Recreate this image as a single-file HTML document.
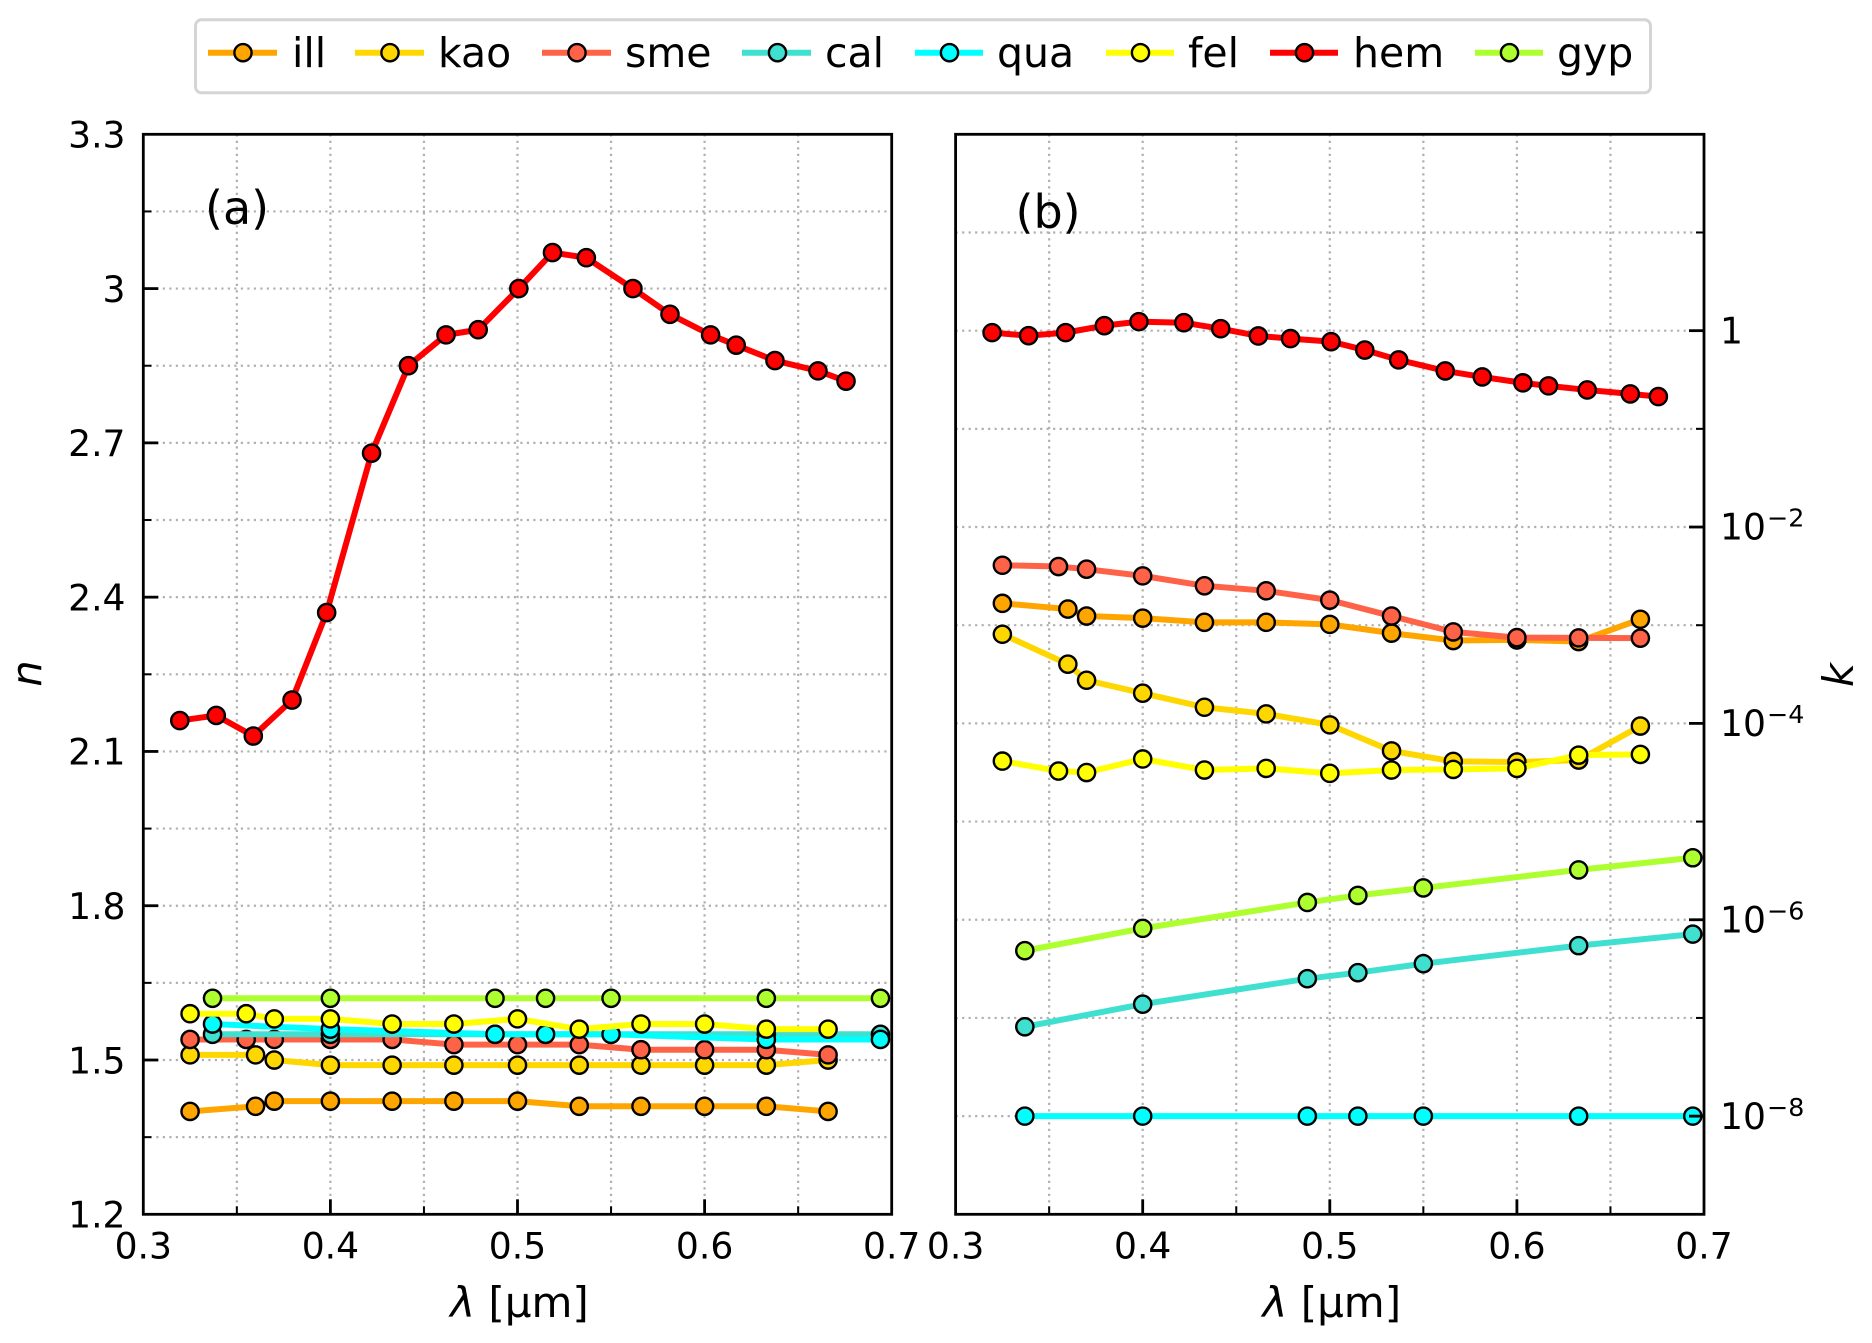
<!DOCTYPE html>
<html>
<head>
<meta charset="utf-8">
<title>Refractive index n and extinction k versus wavelength</title>
<style>
html,body{margin:0;padding:0;background:#fff;}
svg{display:block;}
text{font-family:"DejaVu Sans","Liberation Sans",sans-serif;fill:#000;}
</style>
</head>
<body>
<svg id="chart" xmlns="http://www.w3.org/2000/svg" width="1872" height="1343" viewBox="0 0 1872 1343">
  <rect x="0" y="0" width="1872" height="1343" fill="#fff"/>
  <g id="panelA"></g>
  <g id="panelB"></g>
  <g>
    <rect x="195.5" y="19.8" width="1455" height="73" rx="6" ry="6" fill="#fff" stroke="#d5d5d5" stroke-width="3"/>
    <g>
      <line x1="208" x2="277" y1="52.7" y2="52.7" stroke="#ffa500" stroke-width="6"/>
      <circle cx="243" cy="52.7" r="8.6" fill="#ffa500" stroke="#000" stroke-width="2.4"/>
      <text x="292" y="67" font-size="41">ill</text>
    </g>
    <g>
      <line x1="355" x2="424" y1="52.7" y2="52.7" stroke="#ffd700" stroke-width="6"/>
      <circle cx="390" cy="52.7" r="8.6" fill="#ffd700" stroke="#000" stroke-width="2.4"/>
      <text x="438" y="67" font-size="41">kao</text>
    </g>
    <g>
      <line x1="542" x2="611" y1="52.7" y2="52.7" stroke="#ff6347" stroke-width="6"/>
      <circle cx="577" cy="52.7" r="8.6" fill="#ff6347" stroke="#000" stroke-width="2.4"/>
      <text x="625" y="67" font-size="41">sme</text>
    </g>
    <g>
      <line x1="742" x2="811" y1="52.7" y2="52.7" stroke="#40e0d0" stroke-width="6"/>
      <circle cx="777.5" cy="52.7" r="8.6" fill="#40e0d0" stroke="#000" stroke-width="2.4"/>
      <text x="825" y="67" font-size="41">cal</text>
    </g>
    <g>
      <line x1="915" x2="983" y1="52.7" y2="52.7" stroke="#00ffff" stroke-width="6"/>
      <circle cx="949.5" cy="52.7" r="8.6" fill="#00ffff" stroke="#000" stroke-width="2.4"/>
      <text x="997" y="67" font-size="41">qua</text>
    </g>
    <g>
      <line x1="1106" x2="1174" y1="52.7" y2="52.7" stroke="#ffff00" stroke-width="6"/>
      <circle cx="1140.5" cy="52.7" r="8.6" fill="#ffff00" stroke="#000" stroke-width="2.4"/>
      <text x="1188" y="67" font-size="41">fel</text>
    </g>
    <g>
      <line x1="1270" x2="1338" y1="52.7" y2="52.7" stroke="#ff0000" stroke-width="6"/>
      <circle cx="1304.5" cy="52.7" r="8.6" fill="#ff0000" stroke="#000" stroke-width="2.4"/>
      <text x="1353" y="67" font-size="41">hem</text>
    </g>
    <g>
      <line x1="1475" x2="1543" y1="52.7" y2="52.7" stroke="#adff2f" stroke-width="6"/>
      <circle cx="1509.5" cy="52.7" r="8.6" fill="#adff2f" stroke="#000" stroke-width="2.4"/>
      <text x="1557" y="67" font-size="41">gyp</text>
    </g>
  </g>
  <text x="205" y="224" font-size="46">(a)</text>
  <text x="1015.5" y="228" font-size="46">(b)</text>
  <text x="519.5" y="1317" font-size="42" text-anchor="middle"><tspan font-style="italic">λ</tspan> [μm]</text>
  <text x="1331.8" y="1317" font-size="42" text-anchor="middle"><tspan font-style="italic">λ</tspan> [μm]</text>
  <text transform="translate(41,673.5) rotate(-90)" font-size="41.7" font-style="italic" text-anchor="middle">n</text>
  <text transform="translate(1853,675) rotate(-90)" font-size="41.7" font-style="italic" text-anchor="middle">k</text>
</svg>
<script>
// Wavelength samples (micrometres)
const lamIll = [0.325,0.36,0.37,0.4,0.433,0.466,0.5,0.533,0.566,0.6,0.633,0.666];
const lamSme = [0.325,0.355,0.37,0.4,0.433,0.466,0.5,0.533,0.566,0.6,0.633,0.666];
const lamCal = [0.337,0.4,0.488,0.515,0.55,0.633,0.694];
const lamHem = [0.3195,0.339,0.3588,0.3795,0.398,0.422,0.4417,0.4618,0.479,0.5007,0.5187,0.5368,0.5617,0.5815,0.6032,0.6169,0.6376,0.6606,0.6756];

// Panel (a): refractive index n
const nIll = [1.40,1.41,1.42,1.42,1.42,1.42,1.42,1.41,1.41,1.41,1.41,1.40];
const nKao = [1.51,1.51,1.50,1.49,1.49,1.49,1.49,1.49,1.49,1.49,1.49,1.50];
const nSme = [1.54,1.54,1.54,1.54,1.54,1.53,1.53,1.53,1.52,1.52,1.52,1.51];
const nCal = [1.55,1.55,1.55,1.55,1.55,1.55,1.55];
const nQua = [1.57,1.56,1.55,1.55,1.55,1.54,1.54];
const nFel = [1.59,1.59,1.58,1.58,1.57,1.57,1.58,1.56,1.57,1.57,1.56,1.56];
const nHem = [2.16,2.17,2.13,2.20,2.37,2.68,2.85,2.91,2.92,3.00,3.07,3.06,3.00,2.95,2.91,2.89,2.86,2.84,2.82];
const nGyp = [1.62,1.62,1.62,1.62,1.62,1.62,1.62];

// Panel (b): extinction coefficient k
const kIll = [1.67e-3,1.46e-3,1.24e-3,1.18e-3,1.07e-3,1.07e-3,1.02e-3,8.3e-4,6.98e-4,7.08e-4,6.82e-4,1.15e-3];
const kKao = [8.09e-4,4.01e-4,2.75e-4,2.03e-4,1.46e-4,1.25e-4,9.66e-5,5.25e-5,4.10e-5,4.04e-5,4.23e-5,9.4e-5];
const kSme = [4.08e-3,3.96e-3,3.72e-3,3.18e-3,2.52e-3,2.24e-3,1.80e-3,1.24e-3,8.55e-4,7.48e-4,7.43e-4,7.38e-4];
const kCal = [8.13e-8,1.38e-7,2.51e-7,2.89e-7,3.57e-7,5.45e-7,7.14e-7];
const kQua = [1e-8,1e-8,1e-8,1e-8,1e-8,1e-8,1e-8];
const kFel = [4.13e-5,3.27e-5,3.16e-5,4.34e-5,3.35e-5,3.48e-5,3.10e-5,3.35e-5,3.40e-5,3.48e-5,4.75e-5,4.83e-5];
const kHem = [0.955,0.889,0.955,1.125,1.236,1.205,1.047,0.883,0.830,0.773,0.635,0.504,0.389,0.338,0.294,0.274,0.249,0.227,0.213];
const kGyp = [4.84e-7,8.17e-7,1.5e-6,1.77e-6,2.11e-6,3.22e-6,4.28e-6];

// Axis tick values and labels
const xMajorTicks = [0.3,0.4,0.5,0.6,0.7];
const xMajorLabels = ['0.3','0.4','0.5','0.6','0.7'];
const xMinorTicks = [0.35,0.45,0.55,0.65];
const nMajorTicks = [1.2,1.5,1.8,2.1,2.4,2.7,3,3.3];
const nMajorLabels = ['1.2','1.5','1.8','2.1','2.4','2.7','3','3.3'];
const nMinorTicks = [1.35,1.65,1.95,2.25,2.55,2.85,3.15];
const kMajorExponents = [0,-2,-4,-6,-8];
const kMajorLabels = ['1','10','10','10','10'];
const kMajorSuperscripts = ['','−2','−4','−6','−8'];
const kMinorExponents = [1,-1,-3,-5,-7];

const colIll = '#ffa500', colKao = '#ffd700', colSme = '#ff6347', colCal = '#40e0d0';
const colQua = '#00ffff', colFel = '#ffff00', colHem = '#ff0000', colGyp = '#adff2f';

const NS = 'http://www.w3.org/2000/svg';
const TOP = 134.3, BOTTOM = 1214.3, WIDTH = 748.4;
const LEFT_A = 143.3, LEFT_B = 955.6;

function xA(l){ return LEFT_A + (l - 0.3) / 0.4 * WIDTH; }
function xB(l){ return LEFT_B + (l - 0.3) / 0.4 * WIDTH; }
function yN(n){ return TOP + (3.3 - n) / 2.1 * (BOTTOM - TOP); }
function yK(k){ return TOP + (2 - Math.log10(k)) / 11 * (BOTTOM - TOP); }

function make(tag, attrs, parent){
  const el = document.createElementNS(NS, tag);
  for (const key in attrs) el.setAttribute(key, attrs[key]);
  parent.appendChild(el);
  return el;
}

function gridLine(parent, x1, y1, x2, y2, name){
  const el = make('line', {x1:x1, y1:y1, x2:x2, y2:y2, stroke:'#b0b0b0', 'stroke-width':2.2, 'stroke-dasharray':'2.2 4.3'}, parent);
  
  
}

function tickLine(parent, x1, y1, x2, y2, width, name){
  const el = make('line', {x1:x1, y1:y1, x2:x2, y2:y2, stroke:'#000', 'stroke-width':width}, parent);
  
  
}

function tickText(parent, x, y, anchor, size, str, name){
  const el = make('text', {x:x, y:y, 'text-anchor':anchor, 'font-size':size}, parent);
  el.textContent = str;
  
  
}

function drawSeries(parent, sx, sy, xs, ys, color, name){
  const g = make('g', {}, parent);
  
  
  const pts = xs.map(function(v, i){ return sx(v).toFixed(2) + ',' + sy(ys[i]).toFixed(2); }).join(' ');
  const line = make('polyline', {points:pts, fill:'none', stroke:color, 'stroke-width':6, 'stroke-linejoin':'round'}, g);
  
  
  xs.forEach(function(v, i){
    const c = make('circle', {cx:sx(v), cy:sy(ys[i]), r:8.6, fill:color, stroke:'#000', 'stroke-width':2.4}, g);
    
    
  });
}

function drawX(parent, sx, tag){
  xMajorTicks.concat(xMinorTicks).forEach(function(t){
    if (t > 0.3 && t < 0.7) gridLine(parent, sx(t), TOP, sx(t), BOTTOM, tag + '-x-grid-line');
  });
}

function drawXTicks(parent, sx, tag){
  xMajorTicks.forEach(function(t, i){
    if (t > 0.3 && t < 0.7) tickLine(parent, sx(t), BOTTOM, sx(t), BOTTOM - 15, 2.8, tag + '-x-major-tick');
    tickText(parent, sx(t), 1258.3, 'middle', 36.1, xMajorLabels[i], tag + '-x-tick-label');
  });
  xMinorTicks.forEach(function(t){
    tickLine(parent, sx(t), BOTTOM, sx(t), BOTTOM - 8, 2, tag + '-x-minor-tick');
  });
}

function frame(parent, left, tag){
  const r = make('rect', {x:left, y:TOP, width:WIDTH, height:BOTTOM - TOP, fill:'none', stroke:'#000', 'stroke-width':2.8}, parent);
  
  
}

/* Panel (a) */
const panelA = document.getElementById('panelA');
drawX(panelA, xA, 'panel-a');
nMajorTicks.concat(nMinorTicks).forEach(function(t){
  if (t > 1.2 && t < 3.3) gridLine(panelA, LEFT_A, yN(t), LEFT_A + WIDTH, yN(t), 'panel-a-y-grid-line');
});
drawSeries(panelA, xA, yN, lamIll, nIll, colIll, 'ill-n');
drawSeries(panelA, xA, yN, lamIll, nKao, colKao, 'kao-n');
drawSeries(panelA, xA, yN, lamSme, nSme, colSme, 'sme-n');
drawSeries(panelA, xA, yN, lamCal, nCal, colCal, 'cal-n');
drawSeries(panelA, xA, yN, lamCal, nQua, colQua, 'qua-n');
drawSeries(panelA, xA, yN, lamSme, nFel, colFel, 'fel-n');
drawSeries(panelA, xA, yN, lamHem, nHem, colHem, 'hem-n');
drawSeries(panelA, xA, yN, lamCal, nGyp, colGyp, 'gyp-n');
drawXTicks(panelA, xA, 'panel-a');
nMajorTicks.forEach(function(t, i){
  if (t > 1.2 && t < 3.3) tickLine(panelA, LEFT_A, yN(t), LEFT_A + 15, yN(t), 2.8, 'panel-a-y-major-tick');
  tickText(panelA, 125.5, yN(t) + 13.3, 'end', 36.1, nMajorLabels[i], 'panel-a-y-tick-label');
});
nMinorTicks.forEach(function(t){
  tickLine(panelA, LEFT_A, yN(t), LEFT_A + 8, yN(t), 2, 'panel-a-y-minor-tick');
});
frame(panelA, LEFT_A, 'panel-a');

/* Panel (b) */
const panelB = document.getElementById('panelB');
const RIGHT_B = LEFT_B + WIDTH;
drawX(panelB, xB, 'panel-b');
kMajorExponents.concat(kMinorExponents).forEach(function(e){
  gridLine(panelB, LEFT_B, yK(Math.pow(10, e)), RIGHT_B, yK(Math.pow(10, e)), 'panel-b-y-grid-line');
});
drawSeries(panelB, xB, yK, lamIll, kIll, colIll, 'ill-k');
drawSeries(panelB, xB, yK, lamIll, kKao, colKao, 'kao-k');
drawSeries(panelB, xB, yK, lamSme, kSme, colSme, 'sme-k');
drawSeries(panelB, xB, yK, lamCal, kCal, colCal, 'cal-k');
drawSeries(panelB, xB, yK, lamCal, kQua, colQua, 'qua-k');
drawSeries(panelB, xB, yK, lamSme, kFel, colFel, 'fel-k');
drawSeries(panelB, xB, yK, lamHem, kHem, colHem, 'hem-k');
drawSeries(panelB, xB, yK, lamCal, kGyp, colGyp, 'gyp-k');
drawXTicks(panelB, xB, 'panel-b');
kMajorExponents.forEach(function(e, i){
  const y = yK(Math.pow(10, e));
  tickLine(panelB, RIGHT_B, y, RIGHT_B - 15, y, 2.8, 'panel-b-y-major-tick');
  if (e === 0) {
    tickText(panelB, 1720, y + 13, 'start', 36.1, kMajorLabels[i], 'panel-b-y-tick-label');
  } else {
    tickText(panelB, 1720, y + 12.7, 'start', 36.1, kMajorLabels[i], 'panel-b-y-tick-label');
    tickText(panelB, 1767, y - 0.3, 'start', 25.3, kMajorSuperscripts[i], 'panel-b-y-tick-exponent');
  }
});
kMinorExponents.forEach(function(e){
  const y = yK(Math.pow(10, e));
  tickLine(panelB, RIGHT_B, y, RIGHT_B - 8, y, 2, 'panel-b-y-minor-tick');
});
frame(panelB, LEFT_B, 'panel-b');
</script>
</body>
</html>
